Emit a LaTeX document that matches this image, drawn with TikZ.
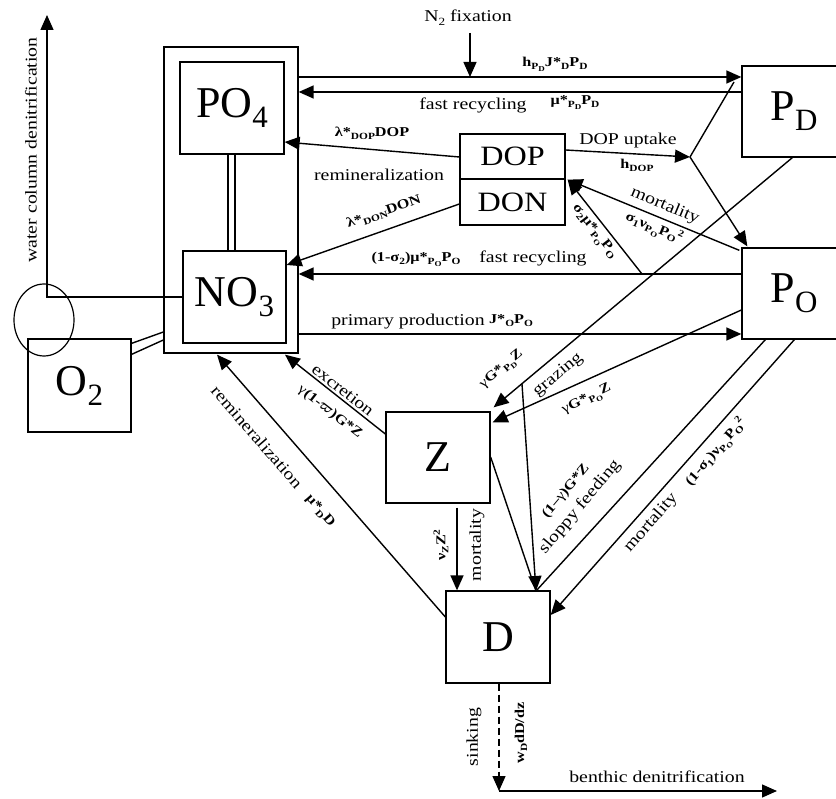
\documentclass[tikz,border=0pt]{standalone}
\usepackage{amsmath}
\usepackage{fontspec}
\setmainfont{Liberation Serif}
\newfontfamily\stretchfont{Liberation Serif}[FakeStretch=1.2]
\newfontfamily\dopfam{Liberation Serif}[FakeStretch=1.15]
\usetikzlibrary{arrows.meta,calc,shapes.geometric}

\newcommand{\lbfont}{\stretchfont\fontsize{16.5}{18}\selectfont}
\newcommand{\bfont}{\stretchfont\bfseries\fontsize{13.5}{15}\selectfont}
\newcommand{\bxfont}{\fontsize{44}{48}\selectfont}
\newcommand{\dopfont}{\dopfam\fontsize{28}{30}\selectfont}
\newcommand{\dn}[1]{\raisebox{-3pt}{\fontsize{9.5}{9.5}\selectfont #1}}
\newcommand{\ddn}[1]{\raisebox{-2pt}{\fontsize{7.5}{7.5}\selectfont #1}}
\newcommand{\upx}[1]{\raisebox{5.5pt}{\fontsize{9.5}{9.5}\selectfont #1}}
\newcommand{\rdn}[1]{\raisebox{-4pt}{\fontsize{11}{11}\selectfont #1}}
\newcommand{\bxsub}[1]{\raisebox{-10pt}{\fontsize{31}{31}\selectfont #1}}
\newcommand{\rg}{{\mdseries γ}}

\tikzset{
  ln/.style={line width=1.4pt},
  arr/.style={ln, -{Triangle[length=15pt,width=13pt]}},
  box/.style={draw, line width=1.3pt, inner sep=0pt},
  bigbox/.style={box, minimum width=104pt, minimum height=92pt, font=\bxfont},
  lbl/.style={inner sep=0pt, font=\lbfont},
  blbl/.style={inner sep=0pt, font=\bfont},
}

\begin{document}
\begin{tikzpicture}[x=1pt,y=-1pt]
\clip (0,0) rectangle (836,799);
\fill[white] (0,0) rectangle (836,799);

% boxes
\node[box, minimum width=134pt, minimum height=306pt] (outer) at (231,200) {};
\node[bigbox] (PO4) at (232,108) {PO\bxsub{4}};
\node[bigbox, minimum width=103pt] (NO3) at (234.5,297) {NO\bxsub{3}};
\node[bigbox, minimum width=103pt, minimum height=93pt] (O2) at (79.5,385.5) {O\bxsub{2}};
\node[bigbox, minimum height=91pt] (PD) at (794,111.5) {P\bxsub{D}};
\node[bigbox, minimum height=91pt] (PO) at (794,293.5) {P\bxsub{O}};
\node[box, minimum width=105pt, minimum height=45pt, font=\dopfont] (DOP) at (512.5,156.5) {DOP};
\node[box, minimum width=105pt, minimum height=46pt, font=\dopfont] (DON) at (512.5,202) {DON};
\node[bigbox, minimum height=91pt] (Z) at (438,457.5) {Z};
\node[bigbox] (D) at (498,637) {D};
\node[draw, ellipse, line width=1.2pt, minimum width=60pt, minimum height=72pt, inner sep=0pt] (ell) at (44,320) {};

% double links
\draw[ln] (PO4.south -| 228,0) -- (NO3.north -| 228,0);
\draw[ln] (PO4.south -| 235,0) -- (NO3.north -| 235,0);
\draw[ln] ($(O2.north east)+(0,5)$) -- (outer.west |- 0,332);
\draw[ln] ($(O2.north east)+(0,16)$) -- (outer.west |- 0,340);

% water column denitrification
\coordinate (wc) at (47,297);
\coordinate (wt) at (47,15);
\draw[arr] (NO3.west |- wc) -- (wc) -- (wt);
\node[lbl, rotate=90] (wcl) at (31,150) {water column denitrification};

% top arrows
\draw[arr] (outer.east |- 0,77) -- (PD.west |- 0,77);
\draw[arr] (PD.west |- 0,92) -- (outer.east |- 0,92);
\node[lbl] (n2) at (468,18) {N\rdn{2} fixation};
\coordinate (fx) at (470,77);
\draw[arr] (fx |- 0,33) -- (fx);
\node[blbl] (hlab) at (555,64) {h\dn{P\ddn{D}}J*\dn{D}P\dn{D}};
\node[lbl] (fr1) at (473,105) {fast recycling};
\node[blbl] (mulab) at (575,103) {μ*\dn{P\ddn{D}}P\dn{D}};

% DOP uptake
\coordinate (jn) at (690,157);
\draw[arr] (DOP.east |- 0,150) -- (jn);
\draw[ln] (jn) -- (734,82);
\draw[arr] (jn) -- ($(PO.north west)+(6,-1)$);
\node[lbl] (upl) at (628,141) {DOP uptake};
\node[blbl] (hdop) at (637,165) {h\dn{DOP}};

% PD and PO to Z
\draw[arr] ($(PD.south west)+(51,0)$) -- ($(Z.north east)+(3,-4)$);
\draw[arr] (PO.west |- 0,310) -- ($(Z.north east)+(2,11)$);

% PO to DOP
\coordinate (s2) at (642,274);
\draw[arr] ($(PO.north west)+(-2,3)$) -- ($(DOP.south east)+(2,0)$);
\draw[arr] (s2) -- ($(DOP.south east)+(2,0)$);

% fast recycling / primary production
\draw[arr] (PO.west |- 0,274) -- (outer.east |- 0,274);
\draw[arr] (outer.east |- 0,334) -- (PO.west |- 0,334);

% DOP / DON remineralization
\draw[arr] (DOP.west |- 0,157) -- (PO4.east |- 0,142);
\draw[arr] (DON.west |- 0,204) -- (NO3.east |- 0,265);

% Z excretion, D remineralization
\draw[arr] (Z.west |- 0,434) -- ($(outer.south)+(54,1)$);
\draw[arr] (D.west |- 0,617) -- ($(outer.south)+(-14,1)$);

% Z mortality
\draw[arr] ($(Z.south)+(19,4)$) -- (D.north -| 457,0);

% sloppy feeding
\coordinate (sf) at (536,591);
\coordinate (gz) at (522,384);
\draw[ln] (Z.east |- 0,457) -- (sf);
\draw[ln] ($(PO.south west)+(24,0)$) -- (sf);
\draw[arr] (gz) -- (sf);

% PO mortality to D
\draw[arr] ($(PO.south west)+(53,0)$) -- (D.east |- 0,615);

% sinking
\coordinate (bt) at (499,791);
\coordinate (be) at (777,791);
\draw[arr, dash pattern=on 7pt off 4pt] (D.south -| bt) -- (bt);
\draw[arr] (bt) -- (be);

% labels
\node[blbl] (l1) at (372,133) {λ*\dn{DOP}DOP};
\node[lbl] (l2) at (379,175) {remineralization};
\node[blbl, rotate=19] (l3) at (384,212) {λ*\dn{DON}DON};
\node[blbl] (l4) at (416,259) {(1-σ\dn{2})μ*\dn{P\ddn{O}}P\dn{O}};
\node[lbl] (l5) at (533,258) {fast recycling};
\node[lbl] (l6) at (408,322) {primary production};
\node[blbl] (l7) at (511,321) {J*\dn{O}P\dn{O}};
\node[lbl, rotate=-22.6] (l8) at (665,206) {mortality};
\node[blbl, rotate=-22.6] (l9) at (654,228) {σ\dn{1}ν\dn{P\ddn{O}}P\dn{O}\upx{2}};
\node[blbl, rotate=-52] (l10) at (594,232) {σ\dn{2}μ*\dn{P\ddn{O}}P\dn{O}};
\node[lbl, rotate=-38] (l11) at (343,390) {excretion};
\node[blbl, rotate=-38] (l12) at (330,412) {\rg(1-$\boldsymbol{\varpi}$)G*Z};
\node[lbl, rotate=-49] (l13) at (257,437) {remineralization};
\node[blbl, rotate=-49] (l14) at (320,511) {μ*\dn{D}D};
\node[blbl, rotate=90] (l15) at (441,545) {ν\dn{Z}Z\upx{2}};
\node[lbl, rotate=90] (l16) at (477,545) {mortality};
\node[blbl, rotate=40] (l17) at (502,370) {\rg G*\dn{P\ddn{D}}Z};
\node[lbl, rotate=40] (l18) at (558,375) {grazing};
\node[blbl, rotate=26] (l19) at (587,400) {\rg G*\dn{P\ddn{O}}Z};
\node[blbl, rotate=50] (l20) at (566,491) {(1–\rg)G*Z};
\node[lbl, rotate=50] (l21) at (580,507) {sloppy feeding};
\node[lbl, rotate=49] (l22) at (651,523) {mortality};
\node[blbl, rotate=49] (l23) at (716,452) {(1-σ\dn{1})ν\dn{P\ddn{O}}P\dn{O}\upx{2}};
\node[lbl, rotate=90] (l24) at (474,737) {sinking};
\node[blbl, rotate=90] (l25) at (521,733) {w\dn{D}dD/dz};
\node[lbl] (l26) at (657,777) {benthic denitrification};
\end{tikzpicture}
\end{document}
